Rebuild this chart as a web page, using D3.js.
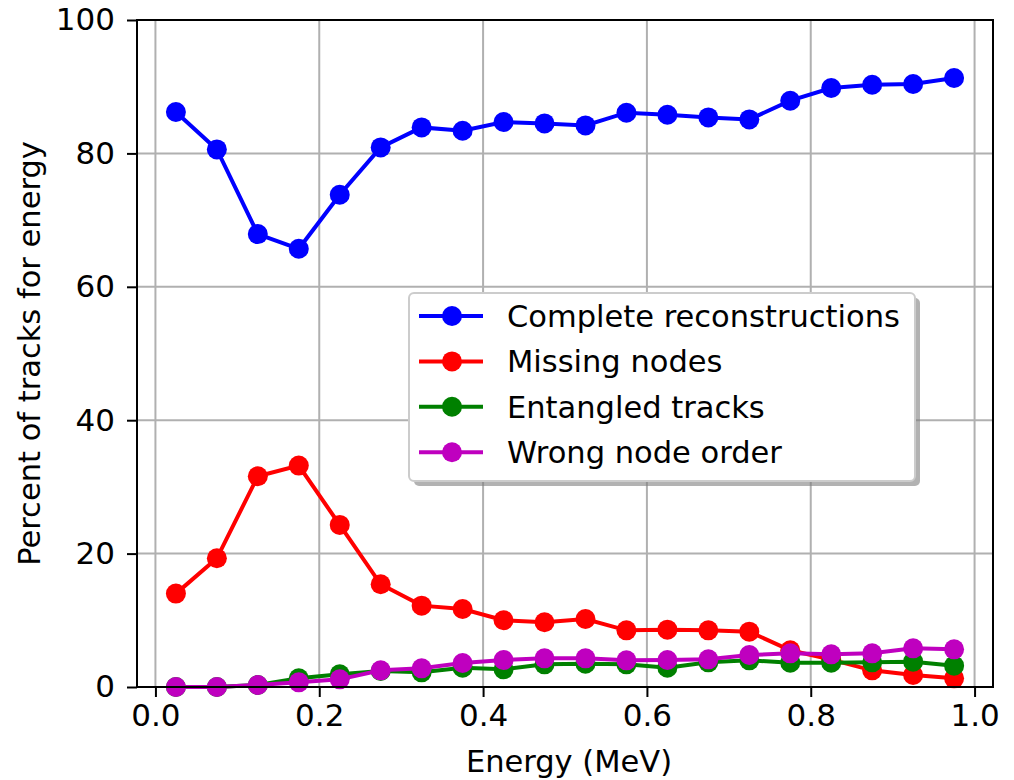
<!DOCTYPE html>
<meta charset="utf-8">
<head>
  <title>Percent of tracks for energy</title>
</head>
<style>
body { margin: 0; background: #fff; }
svg { display: block; font-family: "DejaVu Sans", sans-serif; }
.grid line { stroke: #b0b0b0; stroke-width: 2px; }
.axis line { stroke: #000; stroke-width: 2px; }
.series path { fill: none; stroke-width: 4px; }
</style>
<body>
<svg width="1014" height="780"></svg>
<script src="https://cdnjs.cloudflare.com/ajax/libs/d3/7.8.5/d3.min.js"></script>
<script>
var energy = [0.025, 0.075, 0.125, 0.175, 0.225, 0.275, 0.325, 0.375, 0.425, 0.475,
              0.525, 0.575, 0.625, 0.675, 0.725, 0.775, 0.825, 0.875, 0.925, 0.975];

var complete = [86.2, 80.6, 67.9, 65.7, 73.8, 80.9, 83.9, 83.4, 84.7, 84.5,
                84.2, 86.1, 85.8, 85.4, 85.1, 87.9, 89.8, 90.3, 90.4, 91.3];
var missing  = [14.0, 19.3, 31.6, 33.2, 24.3, 15.4, 12.2, 11.7, 10.0, 9.7,
                10.2, 8.5, 8.6, 8.5, 8.3, 5.5, 4.1, 2.5, 1.8, 1.3];
var entangled = [0.0, 0.0, 0.3, 1.3, 1.9, 2.4, 2.2, 2.9, 2.65, 3.4,
                 3.5, 3.4, 2.9, 3.7, 4.0, 3.65, 3.65, 3.7, 3.8, 3.2];
var wrongOrder = [0.0, 0.0, 0.3, 0.7, 1.15, 2.5, 2.8, 3.6, 4.05, 4.3,
                  4.3, 4.0, 4.05, 4.15, 4.8, 5.05, 4.9, 5.05, 5.8, 5.65];

var seriesNames = ["Complete reconstructions", "Missing nodes", "Entangled tracks", "Wrong node order"];
var seriesColors = ["#0000ff", "#ff0000", "#008000", "#bf00bf"];
var seriesValues = [complete, missing, entangled, wrongOrder];

var xTicks = [0.0, 0.2, 0.4, 0.6, 0.8, 1.0];
var yTicks = [0, 20, 40, 60, 80, 100];

(function() {
var svg = d3.select("svg");
var left = 137, right = 993, plotTop = 20, bottom = 687;

var x = d3.scaleLinear().domain([-0.0225, 1.0225]).range([left, right]);
var y = d3.scaleLinear().domain([0, 100]).range([bottom, plotTop]);

// grid
var grid = svg.append("g").attr("class", "grid");
grid.selectAll("line.gx").data(xTicks).enter().append("line")
  .attr("x1", function(d) { return x(d); }).attr("x2", function(d) { return x(d); })
  .attr("y1", plotTop).attr("y2", bottom);
grid.selectAll("line.gy").data(yTicks).enter().append("line")
  .attr("x1", left).attr("x2", right)
  .attr("y1", function(d) { return y(d); }).attr("y2", function(d) { return y(d); });

// series
var line = d3.line()
  .x(function(d, i) { return x(energy[i]); })
  .y(function(d) { return y(d); });

seriesValues.forEach(function(vals, k) {
  var g = svg.append("g").attr("class", "series");
  g.append("path").attr("d", line(vals)).attr("stroke", seriesColors[k]);
  g.selectAll("circle").data(vals).enter().append("circle")
    .attr("cx", function(d, i) { return x(energy[i]); })
    .attr("cy", function(d) { return y(d); })
    .attr("r", 10)
    .attr("fill", seriesColors[k]);
});

// axes
var xAxis = d3.axisBottom(x).tickValues(xTicks).tickFormat(d3.format(".1f"))
  .tickSizeInner(10).tickSizeOuter(0).tickPadding(7);
var yAxis = d3.axisLeft(y).tickValues(yTicks).tickFormat(d3.format("d"))
  .tickSizeInner(10).tickSizeOuter(0).tickPadding(12);

var gx = svg.append("g").attr("class", "axis").attr("transform", "translate(0," + bottom + ")").call(xAxis);
var gy = svg.append("g").attr("class", "axis").attr("transform", "translate(" + left + ",0)").call(yAxis);
[gx, gy].forEach(function(g) {
  g.select(".domain").remove();
  g.attr("font-family", null).attr("font-size", null);
  g.selectAll("text").attr("font-size", 31).attr("fill", "#000");
});

// frame
svg.append("rect")
  .attr("x", left).attr("y", plotTop)
  .attr("width", right - left).attr("height", bottom - plotTop)
  .attr("fill", "none").attr("stroke", "#000").attr("stroke-width", 2);

// axis labels
svg.append("text")
  .attr("x", (left + right) / 2 + 4).attr("y", 772)
  .attr("text-anchor", "middle").attr("font-size", 30.5)
  .text("Energy (MeV)");
svg.append("text")
  .attr("transform", "translate(40," + ((plotTop + bottom) / 2) + ") rotate(-90)")
  .attr("text-anchor", "middle").attr("font-size", 30.5)
  .text("Percent of tracks for energy");

// legend
var lx = 409, ly = 293, lw = 506, lh = 188;
var legend = svg.append("g");
legend.append("rect")
  .attr("x", lx + 5).attr("y", ly + 5).attr("width", lw).attr("height", lh)
  .attr("rx", 5).attr("fill", "#7f7f7f").attr("opacity", 0.6);
legend.append("rect")
  .attr("x", lx).attr("y", ly).attr("width", lw).attr("height", lh)
  .attr("rx", 5).attr("fill", "#fff").attr("stroke", "#cccccc").attr("stroke-width", 2);

seriesNames.forEach(function(name, k) {
  var ry = ly + 23 + k * 45.4;
  legend.append("line")
    .attr("x1", lx + 10).attr("x2", lx + 74).attr("y1", ry).attr("y2", ry)
    .attr("stroke", seriesColors[k]).attr("stroke-width", 4);
  legend.append("circle")
    .attr("cx", lx + 43).attr("cy", ry).attr("r", 10).attr("fill", seriesColors[k]);
  legend.append("text")
    .attr("x", lx + 98).attr("y", ry).attr("dy", "0.36em")
    .attr("font-size", 30.5)
    .text(name);
});
})();
</script>
</body>
</html>
